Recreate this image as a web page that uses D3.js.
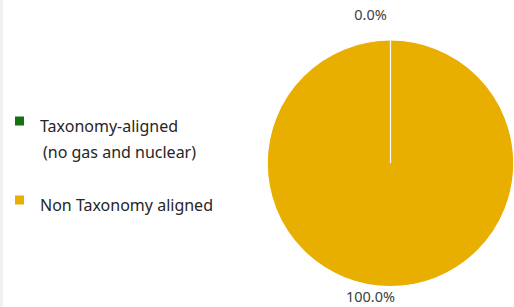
<!DOCTYPE html>
<html>
<head>
<meta charset="utf-8">
<script src="https://cdn.jsdelivr.net/npm/d3@7"></script>
<style>
  body { margin: 0; background: #fff; }
  svg { display: block; font-family: "Noto Sans", "Open Sans", sans-serif; }
</style>
</head>
<body>
<svg id="chart" width="514" height="307"></svg>
<script>
const categories = ["Taxonomy-aligned (no gas and nuclear)", "Non Taxonomy aligned"];
const legendLines = [["Taxonomy-aligned", "(no gas and nuclear)"], ["Non Taxonomy aligned"]];
const shares = [0.0, 100.0];
const colours = ["#137313", "#E8AE00"];

const WIDTH = 514;
const HEIGHT = 307;
const CENTER = { x: 390.5, y: 163.3 };
const RADIUS = 123.3;

const svg = d3.select("#chart");

// faint frame line on the left edge
svg.append("rect")
  .attr("x", 0)
  .attr("y", 0)
  .attr("width", 3)
  .attr("height", HEIGHT)
  .attr("fill", "#f1f1f1");

const data = categories.map((c, i) => ({ name: c, value: shares[i], colour: colours[i] }));

const pie = d3.pie().sort(null).value((d) => d.value);
const arc = d3.arc().innerRadius(0).outerRadius(RADIUS);
const labelArc = d3.arc().innerRadius(RADIUS + 17.7).outerRadius(RADIUS + 17.7);

const g = svg.append("g").attr("transform", `translate(${CENTER.x},${CENTER.y})`);

// draw the big slice first so the zero slice's edge sits on top
const arcs = pie(data);
g.selectAll(".slice")
  .data(arcs.slice().reverse())
  .join("path")
  .attr("class", "slice")
  .attr("d", arc)
  .attr("fill", (d) => d.data.colour)
  .attr("stroke", "#fff")
  .attr("stroke-width", 1.2);

g.selectAll(".pct")
  .data(arcs)
  .join("text")
  .attr("class", "pct")
  .attr("x", (d) => labelArc.centroid(d)[0] - 20)
  .attr("y", (d) => labelArc.centroid(d)[1] - 2.3)
  .attr("text-anchor", "middle")
  .attr("font-size", 14.5)
  .attr("fill", "#404040")
  .text((d) => d3.format(".1f")(d.data.value) + "%");

const legendY = d3.scaleOrdinal().domain(categories).range([116.5, 195.5]);

const legend = svg.append("g").attr("class", "legend");

const item = legend.selectAll(".legend-item")
  .data(data)
  .join("g")
  .attr("class", "legend-item")
  .attr("transform", (d) => `translate(15,${legendY(d.name)})`);

item.append("rect")
  .attr("width", 9)
  .attr("height", 9)
  .attr("fill", (d) => d.colour);

item.each(function (d, i) {
  d3.select(this)
    .selectAll("text")
    .data(legendLines[i])
    .join("text")
    .attr("x", (t, j) => (j ? 28 : 25))
    .attr("y", (t, j) => 15.5 + j * 26)
    .attr("font-size", 16)
    .attr("fill", "#262626")
    .text((t) => t);
});
</script>
</body>
</html>
